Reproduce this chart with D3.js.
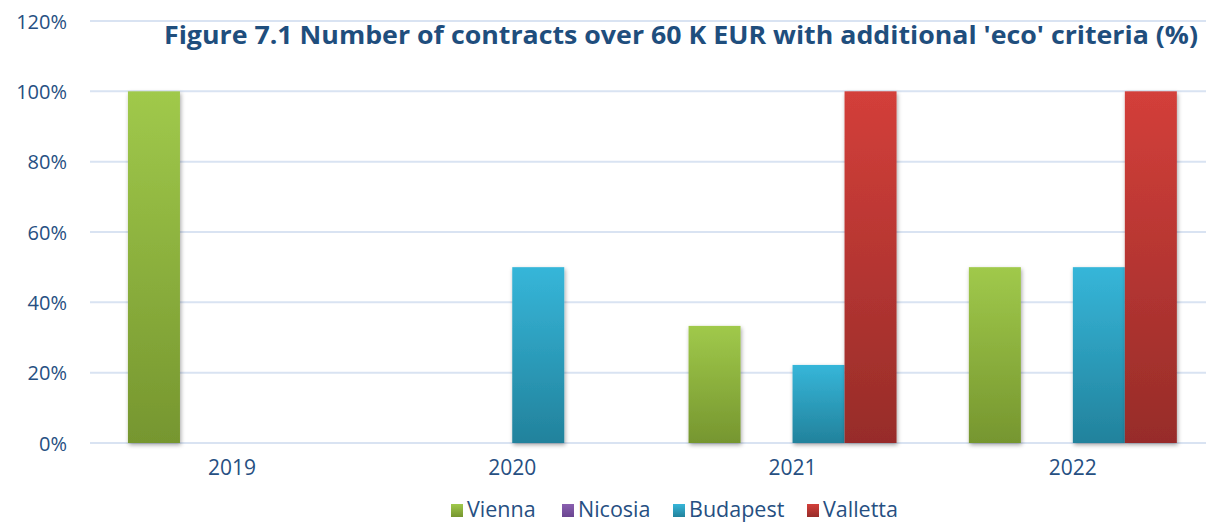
<!DOCTYPE html>
<html>
<head>
<meta charset="utf-8">
<script src="https://cdn.jsdelivr.net/npm/d3@7"></script>
<style>
  html, body { margin: 0; padding: 0; background: #fff; }
  svg { display: block; }
  text { font-family: "Open Sans", "Liberation Sans", sans-serif; }
</style>
</head>
<body>
<svg id="chart" width="1206" height="523"></svg>
<script>
// Share of contracts over 60 K EUR with additional 'eco' criteria, by city and year
const years = ["2019", "2020", "2021", "2022"];
const cities = ["Vienna", "Nicosia", "Budapest", "Valletta"];
const vienna   = [1.00, 0.00, 0.333, 0.50];
const nicosia  = [0.00, 0.00, 0.00, 0.00];
const budapest = [0.00, 0.50, 0.222, 0.50];
const valletta = [0.00, 0.00, 1.00, 1.00];
const yTicks = [0, 0.2, 0.4, 0.6, 0.8, 1.0, 1.2];
const titleText = "Figure 7.1 Number of contracts over 60 K EUR with additional 'eco' criteria (%)";

const seriesValues = { Vienna: vienna, Nicosia: nicosia, Budapest: budapest, Valletta: valletta };
const palette = {
  Vienna:   { top: "#a0c94b", bottom: "#76962f" },
  Nicosia:  { top: "#8a5fb0", bottom: "#6a4590" },
  Budapest: { top: "#36b6d9", bottom: "#22829c" },
  Valletta: { top: "#d33f3a", bottom: "#972c29" }
};
const textColor = "#264f82";

const svg = d3.select("#chart");
const plot = { left: 91.8, right: 1213, top: 21, bottom: 443 };

const x0 = d3.scaleBand().domain(years).range([plot.left, plot.right])
  .paddingInner(0.258).paddingOuter(0.129);
const x1 = d3.scaleBand().domain(cities).range([0, x0.bandwidth()]);
const y = d3.scaleLinear().domain([0, 1.2]).range([plot.bottom, plot.top]);

// gradients and bar shadow
const defs = svg.append("defs");
cities.forEach(c => {
  const g = defs.append("linearGradient").attr("id", "grad-" + c)
    .attr("x1", 0).attr("y1", 0).attr("x2", 0).attr("y2", 1);
  g.append("stop").attr("offset", "0%").attr("stop-color", palette[c].top);
  g.append("stop").attr("offset", "100%").attr("stop-color", palette[c].bottom);
});
const f = defs.append("filter").attr("id", "shadow")
  .attr("x", "-20%").attr("y", "-5%").attr("width", "140%").attr("height", "115%");
f.append("feDropShadow").attr("dx", 1).attr("dy", 2).attr("stdDeviation", 2.2)
  .attr("flood-color", "#000").attr("flood-opacity", 0.35);

// gridlines
svg.append("g").selectAll("line").data(yTicks).join("line")
  .attr("x1", 90).attr("x2", 1206)
  .attr("y1", d => y(d)).attr("y2", d => y(d))
  .attr("stroke", "#d9e3f2").attr("stroke-width", 2);

// y axis labels
const yAxis = d3.axisLeft(y).tickValues(yTicks).tickFormat(d3.format(".0%")).tickSize(0).tickPadding(0);
svg.append("g").attr("transform", "translate(67,0)").call(yAxis)
  .call(g => g.select(".domain").remove())
  .call(g => g.selectAll("text").attr("fill", textColor).attr("font-size", 20)
    .attr("font-family", "'Open Sans', sans-serif").attr("dy", "0.36em"));

// x axis labels
const xAxis = d3.axisBottom(x0).tickSize(0).tickPadding(0);
svg.append("g").attr("transform", "translate(0,460)").call(xAxis)
  .call(g => g.select(".domain").remove())
  .call(g => g.selectAll("text").attr("fill", textColor).attr("font-size", 21)
    .attr("font-family", "'Open Sans', sans-serif").attr("dy", "0.71em"));

// bars
const rows = [];
years.forEach((yr, i) => cities.forEach(c => rows.push({ year: yr, city: c, value: seriesValues[c][i] })));
svg.append("g").selectAll("rect").data(rows.filter(d => d.value > 0)).join("rect")
  .attr("x", d => x0(d.year) + x1(d.city))
  .attr("width", x1.bandwidth())
  .attr("y", d => y(d.value))
  .attr("height", d => y(0) - y(d.value))
  .attr("fill", d => `url(#grad-${d.city})`)
  .attr("filter", "url(#shadow)");

// title
svg.append("text").attr("x", 1198).attr("y", 44).attr("text-anchor", "end")
  .attr("font-size", 25.5).attr("font-weight", "bold").attr("fill", "#1f4e7d")
  .attr("textLength", 1034).attr("lengthAdjust", "spacingAndGlyphs")
  .text(titleText);

// legend
const legendX = [451, 562, 673, 807];
const leg = svg.append("g").selectAll("g").data(cities).join("g")
  .attr("transform", (d, i) => `translate(${legendX[i]},504)`);
leg.append("rect").attr("width", 12).attr("height", 13)
  .attr("fill", d => `url(#grad-${d})`);
leg.append("text").attr("x", 16).attr("y", 13)
  .attr("font-size", 21.5).attr("fill", textColor).text(d => d);
</script>
</body>
</html>
